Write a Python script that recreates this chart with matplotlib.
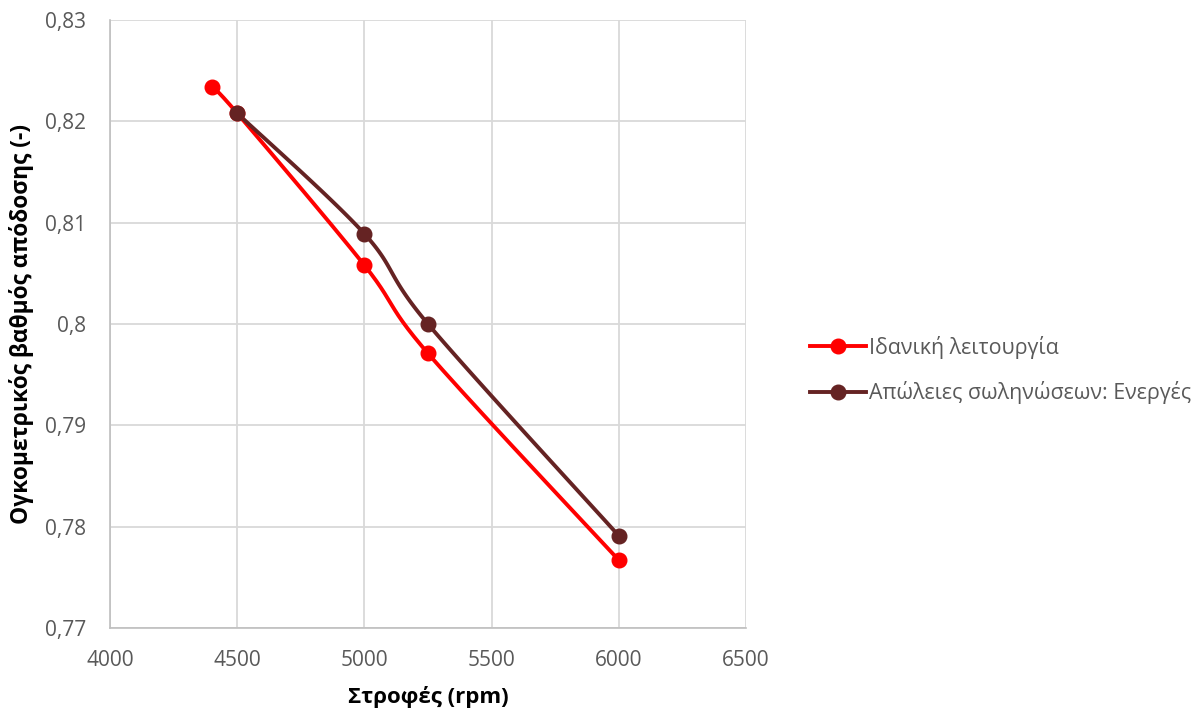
import numpy as np
import matplotlib
matplotlib.use("Agg")
import matplotlib.pyplot as plt
from matplotlib.lines import Line2D

# Engine speed (rpm) and volumetric efficiency for each operating case
rpm_ideal = [4400, 4500, 5000, 5250, 6000]
eff_ideal = [0.8234, 0.8208, 0.8058, 0.7971, 0.7767]

rpm_losses = [4500, 5000, 5250, 6000]
eff_losses = [0.8208, 0.8089, 0.8000, 0.7791]

label_ideal = "Ιδανική λειτουργία"
label_losses = "Απώλειες σωληνώσεων: Ενεργές"

xticks = [4000, 4500, 5000, 5500, 6000, 6500]
yticks = [0.77, 0.78, 0.79, 0.80, 0.81, 0.82, 0.83]
ytick_labels = ["0,77", "0,78", "0,79", "0,8", "0,81", "0,82", "0,83"]

RED = "#ff0000"
BROWN = "#652323"
GRID = "#d9d9d9"
TXT = "#595959"

W, H = 1202, 711
fig = plt.figure(figsize=(W / 100, H / 100), dpi=100)
ax = fig.add_axes([110 / W, 1 - 628 / H, 636 / W, 608 / H])
xlim = (4000, 6500)
ylim = (0.77, 0.83)
ax.set_xlim(*xlim)
ax.set_ylim(*ylim)

# scale factors so the smoothing is done in screen-like space
sx = 636 / (xlim[1] - xlim[0])
sy = 608 / (ylim[1] - ylim[0])


def smooth(xs, ys, n=40):
    """Cardinal-spline smoothing through every point (Bezier segments)."""
    p = np.column_stack([(np.asarray(xs) - xlim[0]) * sx,
                         (np.asarray(ys) - ylim[0]) * sy])
    pts = np.vstack([p[0], p, p[-1]])
    out = []
    t = np.linspace(0, 1, n)[:, None]
    for i in range(1, len(pts) - 2):
        p0, p1, p2, p3 = pts[i - 1], pts[i], pts[i + 1], pts[i + 2]
        c1 = p1 + (p2 - p0) / 6
        c2 = p2 - (p3 - p1) / 6
        seg = ((1 - t) ** 3) * p1 + 3 * ((1 - t) ** 2) * t * c1 \
            + 3 * (1 - t) * t ** 2 * c2 + t ** 3 * p2
        out.append(seg if i == 1 else seg[1:])
    c = np.vstack(out)
    return c[:, 0] / sx + xlim[0], c[:, 1] / sy + ylim[0]


for xs, ys, col in [(rpm_ideal, eff_ideal, RED), (rpm_losses, eff_losses, BROWN)]:
    cx, cy = smooth(xs, ys)
    ax.plot(cx, cy, color=col, lw=2.8, solid_capstyle="round", zorder=3)
    ax.plot(xs, ys, ls="none", marker="o", ms=10.5, color=col, zorder=4)

ax.set_xticks(xticks)
ax.set_yticks(yticks)
ax.set_yticklabels(ytick_labels)
ax.grid(True, color=GRID, lw=1.3)
ax.set_axisbelow(True)
for s in ["top", "right"]:
    ax.spines[s].set_visible(False)
for s in ["left", "bottom"]:
    ax.spines[s].set_color("#bfbfbf")
    ax.spines[s].set_linewidth(1.2)
ax.tick_params(axis="y", length=0, pad=17, labelsize=15, labelcolor=TXT)
ax.tick_params(axis="x", length=0, pad=16, labelsize=15, labelcolor=TXT)
for lbl in ax.get_xticklabels() + ax.get_yticklabels():
    lbl.set_family("Open Sans")

ax.set_xlabel("Στροφές (rpm)", fontsize=16, fontweight="bold",
              family="Open Sans", color="black")
ax.xaxis.set_label_coords(0.5, -(697 - 628) / 608, transform=ax.transAxes)
ax.set_ylabel("Ογκομετρικός βαθμός απόδοσης (-)", fontsize=16.4,
              fontweight="bold", family="Open Sans", color="black")
ax.yaxis.set_label_coords(-(110 - 22) / 636, 0.5, transform=ax.transAxes)
ax.xaxis.label.set_va("center")
ax.yaxis.label.set_va("center")

handles = [
    Line2D([], [], color=RED, lw=2.8, marker="o", ms=10.5),
    Line2D([], [], color=BROWN, lw=2.8, marker="o", ms=10.5),
]
fig.legend(handles, [label_ideal, label_losses],
           loc="center left", bbox_to_anchor=(810 / W, 1 - 370 / H),
           frameon=False, borderpad=0, borderaxespad=0,
           handlelength=2.6, handletextpad=0.15,
           labelspacing=1.05, prop={"family": "Open Sans", "size": 15.4},
           labelcolor=TXT)

fig.savefig("out.png", dpi=100, facecolor="white")
